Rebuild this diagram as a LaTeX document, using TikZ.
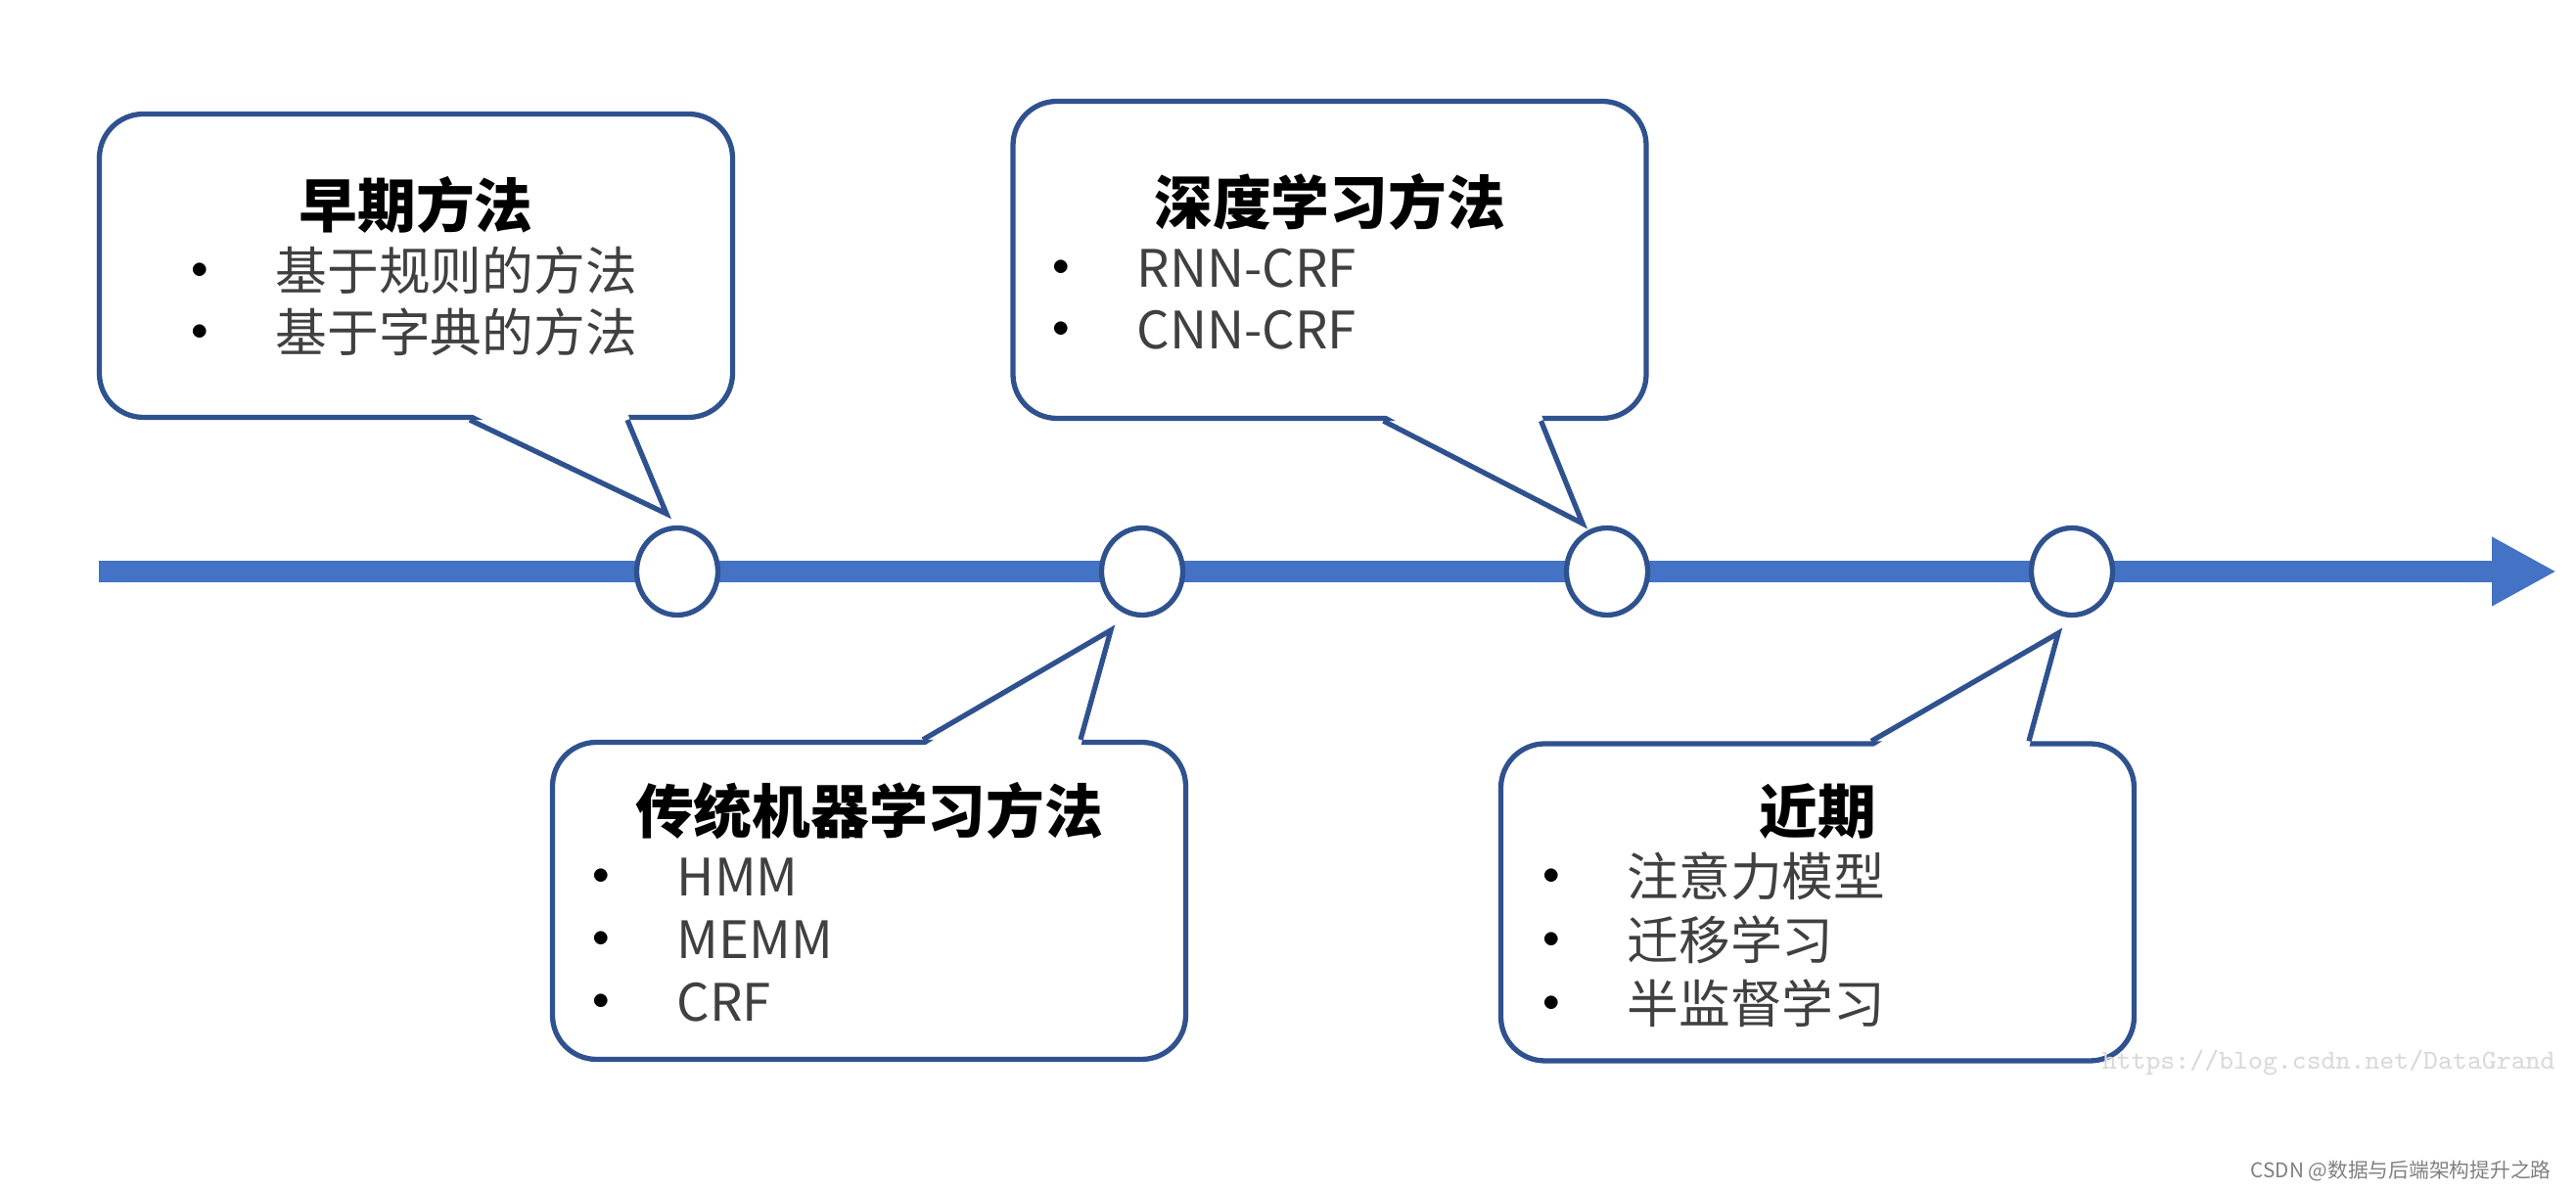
\documentclass[tikz,border=0pt]{standalone}
\usepackage{fontspec}
\setmainfont{Noto Sans CJK SC}
\usetikzlibrary{arrows.meta,positioning,shapes.geometric}
\definecolor{lineblue}{RGB}{68,114,196}
\definecolor{edgeblue}{RGB}{47,82,143}
\definecolor{itemgray}{RGB}{64,64,64}
\newcommand{\itemdot}{\makebox[0pt]{\raisebox{3.4pt}{\color{black}\fontsize{10pt}{10pt}\selectfont$\bullet$}}\hspace{7.7mm}}

\begin{document}
\begin{tikzpicture}[stage/.style={ellipse, draw=edgeblue, line width=1.5pt, fill=white, minimum width=8.3mm, minimum height=8.9mm, inner sep=0pt},
  bubble/.style={rectangle, draw=edgeblue, line width=1.5pt, fill=white, rounded corners=4.5mm, minimum width=64.7mm, minimum height=32.4mm},
  headline/.style={font=\fontsize{17pt}{20pt}\selectfont\bfseries, text height=13pt, text depth=0pt, inner sep=0pt},
  entry/.style={font=\fontsize{15pt}{18pt}\selectfont, text=itemgray, anchor=west, text height=11.4pt, text depth=0pt, inner sep=0pt},
  node distance=47.5mm]
  \useasboundingbox (0,0) rectangle (26.32,12.16);

  % time axis
  \coordinate (start) at (1.01,6.32);
  \coordinate (end) at (26.12,6.32);
  \draw[line width=6pt, lineblue, -{Triangle[length=6.6mm, width=6.6mm]}] (start) -- (end);

  \node[stage] (t1) at (6.92,6.32) {};
  \node[stage, right of=t1] (t2) {};
  \node[stage, right of=t2] (t3) {};
  \node[stage, right of=t3] (t4) {};

  % callouts
  \node[bubble, above of=t1, node distance=31.25mm, xshift=-26.7mm, minimum height=31mm] (b1) {};
  \node[bubble, above of=t3, node distance=31.85mm, xshift=-28.35mm] (b2) {};
  \node[bubble, below of=t2, node distance=33.65mm, xshift=-27.9mm] (b3) {};
  \node[bubble, below of=t4, node distance=33.8mm, xshift=-26mm] (b4) {};

  \coordinate (p1) at ([shift={(-0.11,0.59)}]t1.center);
  \coordinate (p2) at ([shift={(-0.25,0.49)}]t3.center);
  \coordinate (p3) at ([shift={(-0.32,-0.60)}]t2.center);
  \coordinate (p4) at ([shift={(-0.14,-0.63)}]t4.center);

  \foreach \b/\a/\p/\s in {b1/south/p1/2pt, b2/south/p2/2pt, b3/north/p3/-2pt, b4/north/p4/-2pt}{
    \fill[white] ([shift={(5.5mm,\s)}]\b.\a) -- (\p) -- ([shift={(21.6mm,\s)}]\b.\a) -- cycle;
    \draw[edgeblue, line width=1.5pt] ([xshift=5.5mm]\b.\a) -- (\p) -- ([xshift=21.6mm]\b.\a);
  }

  % texts
  \node[headline, above of=b1, node distance=6.15mm] (h1) {早期方法};
  \node[entry] (e11) at ([shift={(-2.21,-0.045)}]b1.center) {\itemdot 基于规则的方法};
  \node[below=6.3mm of e11.west, entry] (e12) {\itemdot 基于字典的方法};

  \node[headline, above of=b2, node distance=5.85mm] (h2) {深度学习方法};
  \node[entry] (e21) at ([shift={(-2.745,-0.075)}]b2.center) {\itemdot RNN-CRF};
  \node[below=6.3mm of e21.west, entry] (e22) {\itemdot CNN-CRF};

  \node[headline, above of=b3, node distance=9.2mm] (h3) {传统机器学习方法};
  \node[entry] (e31) at ([shift={(-2.74,0.25)}]b3.center) {\itemdot HMM};
  \node[below=6.4mm of e31.west, entry] (e32) {\itemdot MEMM};
  \node[below=6.4mm of e32.west, entry] (e33) {\itemdot CRF};

  \node[headline, above of=b4, node distance=9.3mm] (h4) {近期};
  \node[entry] (e41) at ([shift={(-2.72,0.27)}]b4.center) {\itemdot 注意力模型};
  \node[below=6.5mm of e41.west, entry] (e42) {\itemdot 迁移学习};
  \node[below=6.5mm of e42.west, entry] (e43) {\itemdot 半监督学习};

  % marks
  \node[text=gray!30, font=\ttfamily\fontsize{8pt}{9pt}\selectfont, anchor=east] (wm) at (26.23,1.30) {https://blog.csdn.net/DataGrand};
  \node[text=gray, font=\fontsize{5.9pt}{7pt}\selectfont, anchor=east] (src) at (26.19,0.19) {CSDN @数据与后端架构提升之路};
\end{tikzpicture}
\end{document}
